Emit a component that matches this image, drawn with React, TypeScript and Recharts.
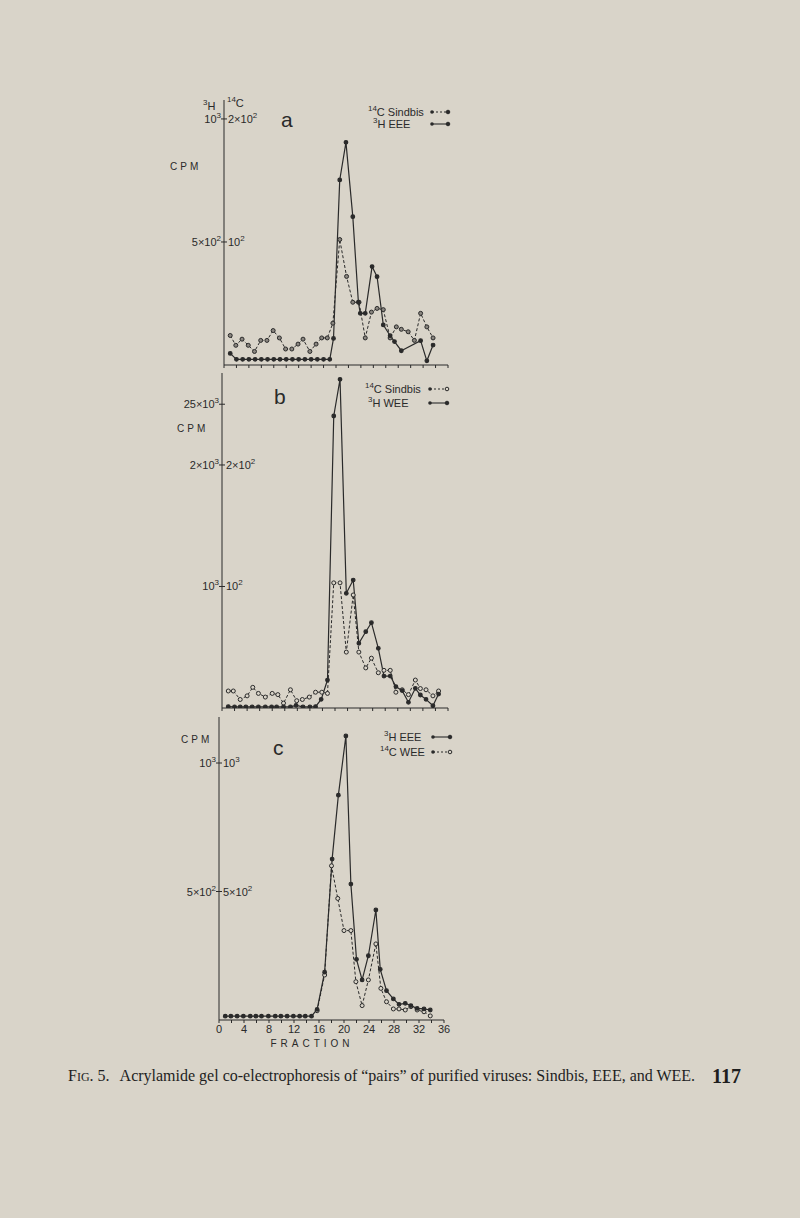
import React from "react";
import { LineChart, Line, XAxis, YAxis } from "recharts";

const INK = "#2a2a2a";
const PAPER = "#d9d4c9";
const SANS = "'Liberation Sans', Arial, sans-serif";
const SERIF = "'Liberation Serif', 'Times New Roman', serif";

// x = fraction number, y = CPM

// (a) 3H EEE - left scale
const aEeeFrac = [1, 2, 3, 4, 5, 6, 7, 8, 9, 10, 11, 12, 13, 14, 15, 16, 17, 17.6, 18.6, 19.6, 20.7, 21.6, 21.9, 22.7, 23.8, 24.6, 25.6, 26.7, 27.4, 28.5, 31.6, 32.6, 33.6];
const aEeeCpm = [47, 23, 23, 23, 23, 23, 23, 23, 23, 23, 23, 23, 23, 23, 23, 23, 23, 108, 752, 905, 603, 255, 210, 210, 400, 359, 163, 119, 95, 58, 99, 17, 81];
// (a) 14C Sindbis - right scale
const aSinFrac = [1, 1.9, 2.9, 3.9, 4.9, 5.9, 6.9, 7.9, 8.9, 9.9, 10.9, 11.9, 12.7, 13.8, 14.8, 15.7, 16.6, 17.5, 18.6, 19.7, 20.7, 21.7, 22.7, 23.7, 24.6, 25.6, 26.7, 27.7, 28.5, 29.6, 30.6, 31.6, 32.6, 33.6];
const aSinCpm = [24, 16, 21, 16, 11, 20, 20, 28, 22, 13, 13, 17, 21, 11, 17, 22, 22, 34, 102, 72, 51, 51, 22, 43, 46, 45, 22, 31, 29, 27, 20, 42, 31, 22];

// (b) 3H WEE - left scale
const bWeeFrac = [1, 2, 2.9, 3.8, 4.8, 5.8, 6.9, 7.9, 8.7, 9.8, 10.9, 11.8, 12.9, 14, 14.9, 15.8, 16.8, 17.8, 18.8, 19.8, 20.9, 21.8, 22.9, 23.8, 24.9, 25.8, 26.8, 27.7, 28.7, 29.7, 30.8, 31.6, 32.5, 33.6, 34.5];
const bWeeCpm = [12, 10, 10, 10, 10, 10, 10, 10, 10, 10, 10, 22, 10, 10, 12, 71, 230, 2403, 2705, 944, 1053, 532, 628, 702, 491, 263, 263, 176, 143, 47, 162, 107, 71, 19, 115];
// (b) 14C Sindbis - right scale
const bSinFrac = [1, 1.8, 2.9, 4, 4.9, 5.8, 6.9, 8, 8.9, 9.8, 10.9, 11.9, 12.8, 13.9, 14.9, 15.9, 16.8, 17.8, 18.8, 19.8, 20.9, 21.8, 22.9, 23.8, 24.9, 25.8, 26.8, 27.7, 28.7, 29.7, 30.8, 31.6, 32.5, 33.6, 34.5];
const bSinCpm = [14, 14, 7, 10, 17, 12, 9, 12, 11, 4, 15, 6, 7, 9, 13, 13, 12, 103, 103, 46, 93, 46, 33, 41, 29, 31, 31, 13, 15, 11, 23, 16, 15, 10, 14];

// (c) 3H EEE - left scale
const cEeeFrac = [1, 1.9, 2.9, 3.9, 5, 5.9, 6.8, 7.9, 9, 9.9, 10.9, 11.9, 12.9, 13.8, 14.8, 15.7, 16.9, 18.1, 19.1, 20.3, 21.1, 22, 22.9, 23.9, 25.1, 25.8, 26.8, 27.9, 28.8, 29.8, 30.7, 31.7, 32.8, 33.8];
const cEeeCpm = [15, 15, 15, 15, 15, 15, 15, 15, 15, 15, 15, 15, 15, 15, 15, 41, 186, 626, 875, 1105, 529, 236, 156, 250, 428, 197, 114, 82, 61, 65, 56, 45, 43, 39];
// (c) 14C WEE - right scale
const cWeeFrac = [15.7, 16.9, 18, 19, 20, 21.1, 21.9, 22.9, 23.9, 25.1, 25.9, 26.8, 27.9, 28.8, 29.8, 30.7, 31.7, 32.8, 33.8];
const cWeeCpm = [36, 175, 600, 473, 348, 348, 149, 56, 156, 296, 123, 71, 43, 43, 39, 52, 39, 32, 16];

const fractionTicks = [0, 2, 4, 6, 8, 10, 12, 14, 16, 18, 20, 22, 24, 26, 28, 30, 32, 34, 36];

type Lab = [string, string] | null;

const aTicks = [500, 1000];
const aLeftLabels: Lab[] = [["5×10", "2"], ["10", "3"]];
const aRightLabels: Lab[] = [["10", "2"], ["2×10", "2"]];

const bTicks = [1000, 2000, 2500];
const bLeftLabels: Lab[] = [["10", "3"], ["2×10", "3"], ["25×10", "3"]];
const bRightLabels: Lab[] = [["10", "2"], ["2×10", "2"], null];

const cTicks = [500, 1000];
const cLeftLabels: Lab[] = [["5×10", "2"], ["10", "3"]];
const cRightLabels: Lab[] = [["5×10", "2"], ["10", "3"]];

const pts = (fr: number[], cpm: number[]) => fr.map((f, i) => ({ f, cpm: cpm[i] }));

function Pow({ x, y, anchor, lab }: { x: number; y: number; anchor: "start" | "end"; lab: Lab }) {
  if (!lab) return null;
  return (
    <text x={x} y={y} textAnchor={anchor} fontSize={11} fontFamily={SANS} fill={INK}>
      {lab[0]}
      <tspan dy={-5} fontSize={8}>{lab[1]}</tspan>
    </text>
  );
}

const makeTick = (ticks: number[], left: Lab[], right: Lab[]) => (props: any) => {
  const { x, y, payload } = props;
  const i = ticks.indexOf(payload.value);
  return (
    <g>
      <line x1={x - 3} x2={x + 3} y1={y} y2={y} stroke={INK} strokeWidth={1} />
      <Pow x={x - 3} y={y + 4} anchor="end" lab={left[i]} />
      <Pow x={x + 4} y={y + 4} anchor="start" lab={right[i]} />
    </g>
  );
};

function Panel(p: {
  top: number; bottom: number; axisX: number; right: number;
  yMax: number; y2Max: number; ticks: number[]; left: Lab[]; rightLab: Lab[];
  solid: any[]; dashed: any[]; xLabels?: boolean; greyDots?: boolean;
}) {
  const xH = p.xLabels ? 24 : 8;
  return (
    <div style={{ position: "absolute", left: 0, top: p.top }}>
      <LineChart width={800} height={p.bottom - p.top + xH} margin={{ top: 0, right: 800 - p.right, bottom: 0, left: 0 }}>
        <XAxis
          type="number" dataKey="f" domain={[0, 36]} ticks={fractionTicks} interval={0}
          height={xH} tickSize={3} stroke={INK} allowDataOverflow
          tick={{ fill: INK, fontSize: 11, fontFamily: SANS }}
          tickFormatter={(v: number) => (p.xLabels && v % 4 === 0 ? String(v) : "")}
        />
        <YAxis
          yAxisId="l" width={p.axisX} domain={[0, p.yMax]} ticks={p.ticks} interval={0}
          tickSize={0} tickMargin={0} tickLine={false} axisLine={{ stroke: INK }}
          tick={makeTick(p.ticks, p.left, p.rightLab)} allowDataOverflow
        />
        <YAxis yAxisId="r" hide domain={[0, p.y2Max]} allowDataOverflow />
        <Line
          yAxisId="r" data={p.dashed} dataKey="cpm" type="linear" stroke={INK} strokeWidth={1}
          strokeDasharray="3 2"
          dot={{ r: 2, fill: p.greyDots ? "#8a8680" : PAPER, stroke: INK, strokeWidth: 1, strokeDasharray: "0" }}
          isAnimationActive={false}
        />
        <Line
          yAxisId="l" data={p.solid} dataKey="cpm" type="linear" stroke={INK} strokeWidth={1.2}
          dot={{ r: 1.8, fill: INK, stroke: INK }} isAnimationActive={false}
        />
      </LineChart>
    </div>
  );
}

function Iso({ x, y, mass, rest, size = 11 }: { x: number; y: number; mass: string; rest: string; size?: number }) {
  return (
    <text x={x} y={y} fontSize={size} fontFamily={SANS} fill={INK}>
      <tspan fontSize={size * 0.72} dy={-5}>{mass}</tspan>
      <tspan dy={5}>{rest}</tspan>
    </text>
  );
}

function Sample({ x1, x2, y, dashed, open }: { x1: number; x2: number; y: number; dashed?: boolean; open?: boolean }) {
  return (
    <g>
      <line x1={x1} x2={x2} y1={y} y2={y} stroke={INK} strokeWidth={1.1} strokeDasharray={dashed ? "2 2" : undefined} />
      <circle cx={x1} cy={y} r={1.8} fill={INK} />
      <circle cx={x2} cy={y} r={1.8} fill={open ? PAPER : INK} stroke={INK} strokeWidth={1} />
    </g>
  );
}

function Overlay() {
  const cpm = { fontSize: 10, fontFamily: SANS, fill: INK, letterSpacing: 3 };
  const big = { fontSize: 21, fontFamily: SANS, fill: INK };
  return (
    <svg width={800} height={1218} style={{ position: "absolute", left: 0, top: 0, pointerEvents: "none" }}>
      {/* panel a */}
      <Iso x={203} y={110} mass="3" rest="H" />
      <Iso x={227} y={107} mass="14" rest="C" />
      <text x={170} y={170} {...cpm}>CPM</text>
      <text x={281} y={127} {...big}>a</text>
      <Iso x={368} y={116} mass="14" rest="C Sindbis" />
      <Sample x1={432} x2={448} y={112} dashed />
      <Iso x={373} y={128} mass="3" rest="H EEE" />
      <Sample x1={432} x2={448} y={124} />

      {/* panel b */}
      <text x={177} y={432} {...cpm}>CPM</text>
      <text x={274} y={404} {...big}>b</text>
      <Iso x={365} y={393} mass="14" rest="C Sindbis" />
      <Sample x1={430} x2={447} y={389} dashed open />
      <Iso x={368} y={407} mass="3" rest="H WEE" />
      <Sample x1={430} x2={447} y={403} />

      {/* panel c */}
      <text x={181} y={743} {...cpm}>CPM</text>
      <text x={273} y={755} {...big}>c</text>
      <Iso x={384} y={741} mass="3" rest="H EEE" />
      <Sample x1={433} x2={450} y={737} />
      <Iso x={380} y={756} mass="14" rest="C WEE" />
      <Sample x1={433} x2={450} y={752} dashed open />

      <text x={312} y={1047} textAnchor="middle" fontSize={10} fontFamily={SANS} fill={INK} letterSpacing={4}>FRACTION</text>

      <text x={68} y={1081} fontSize={16} fontFamily={SERIF} fill="#1e1e1e">
        <tspan>F</tspan><tspan fontSize={12}>IG</tspan><tspan>. 5.</tspan>
        <tspan dx={10}>Acrylamide gel co-electrophoresis of “pairs” of purified viruses: Sindbis, EEE, and WEE.</tspan>
      </text>
      <text x={712} y={1083} fontSize={20} fontWeight="bold" fontFamily={SERIF} fill="#1e1e1e">117</text>
    </svg>
  );
}

export default function App() {
  return (
    <div style={{ position: "absolute", left: 0, top: 0, width: 800, height: 1218, background: PAPER, overflow: "hidden" }}>
      <Panel top={100} bottom={365} axisX={224} right={448} yMax={1077} y2Max={215.4}
        ticks={aTicks} left={aLeftLabels} rightLab={aRightLabels} greyDots
        solid={pts(aEeeFrac, aEeeCpm)} dashed={pts(aSinFrac, aSinCpm)} />
      <Panel top={373} bottom={708} axisX={222} right={448} yMax={2757} y2Max={275.7}
        ticks={bTicks} left={bLeftLabels} rightLab={bRightLabels}
        solid={pts(bWeeFrac, bWeeCpm)} dashed={pts(bSinFrac, bSinCpm)} />
      <Panel top={717} bottom={1020} axisX={219} right={444} yMax={1179} y2Max={1179}
        ticks={cTicks} left={cLeftLabels} rightLab={cRightLabels}
        solid={pts(cEeeFrac, cEeeCpm)} dashed={pts(cWeeFrac, cWeeCpm)} xLabels />
      <Overlay />
    </div>
  );
}
